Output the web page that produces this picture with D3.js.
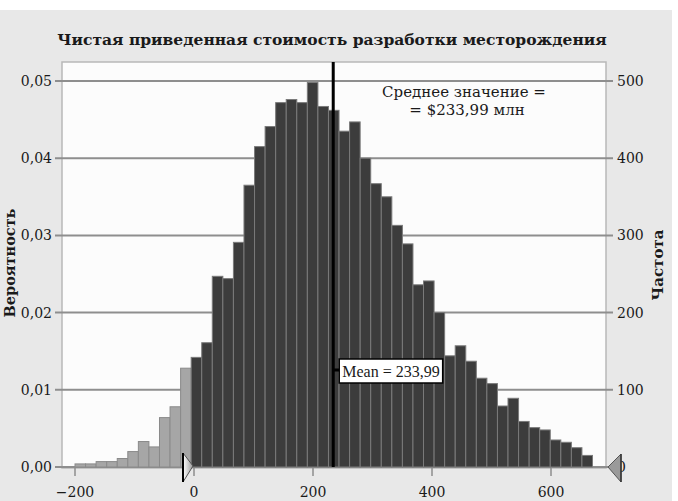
<!DOCTYPE html>
<html>
<head>
<meta charset="utf-8">
<script src="https://cdn.jsdelivr.net/npm/d3@7"></script>
<style>
  body { margin: 0; background: #fff; }
  text { font-family: "DejaVu Serif", "Liberation Serif", serif; fill: #1a1a1a; }
</style>
</head>
<body>
<svg id="chart"></svg>
<script>
// histogram of NPV, 10000 trials
var binStart = -200, binWidth = 17.75;
var counts = [4, 4, 7, 7, 11, 20, 33, 26, 64, 78, 128,
  142, 161, 247, 244, 291, 365, 415, 441, 472, 476, 472, 498, 467, 462,
  435, 447, 400, 367, 350, 313, 289, 236, 241, 200, 144, 157, 137, 115,
  108, 79, 89, 59, 51, 48, 35, 32, 25, 15];
var meanValue = 233.99;
var lowerBound = 0;
var xTicks = [-200, 0, 200, 400, 600];
var freqTicks = [0, 100, 200, 300, 400, 500];
var probLabels = ["0,00", "0,01", "0,02", "0,03", "0,04", "0,05"];

var bins = counts.map(function(c, i) {
  return { x0: binStart + i * binWidth, x1: binStart + (i + 1) * binWidth, n: c };
});

var W = 678, H = 501;
var plot = { left: 62, top: 62, right: 606, bottom: 468 };

var svg = d3.select("#chart").attr("width", W).attr("height", H);

svg.append("rect").attr("x", 0).attr("y", 10).attr("width", 672).attr("height", H - 10)
  .attr("fill", "#e8e8e8");

var x = d3.scaleLinear().domain([-200, 600]).range([75, 551]);
var y = d3.scaleLinear().domain([0, 500]).range([467, 81]);

// plot background
svg.append("rect")
  .attr("x", plot.left).attr("y", plot.top)
  .attr("width", plot.right - plot.left).attr("height", plot.bottom - plot.top)
  .attr("fill", "#fcfcfc").attr("stroke", "#b8b8b8").attr("stroke-width", 1.5);

// title
svg.append("text")
  .attr("x", 332).attr("y", 45)
  .attr("text-anchor", "middle")
  .style("font-weight", "bold").style("font-size", "15.5px")
  .text("Чистая приведенная стоимость разработки месторождения");

// gridlines + ticks both sides
svg.append("g").selectAll("line").data(freqTicks).enter().append("line")
  .attr("x1", 55).attr("x2", 613)
  .attr("y1", function(d) { return y(d); }).attr("y2", function(d) { return y(d); })
  .attr("stroke", "#8e8e8e").attr("stroke-width", 2);

svg.append("g").selectAll("text").data(freqTicks).enter().append("text")
  .attr("x", 52).attr("y", function(d) { return y(d); }).attr("dy", "0.35em")
  .attr("text-anchor", "end").style("font-size", "14px")
  .text(function(d, i) { return probLabels[i]; });

svg.append("g").selectAll("text").data(freqTicks).enter().append("text")
  .attr("x", 617).attr("y", function(d) { return y(d); }).attr("dy", "0.35em")
  .style("font-size", "14px")
  .text(function(d) { return d; });

// bars
svg.append("g").selectAll("rect").data(bins).enter().append("rect")
  .attr("x", function(d) { return x(d.x0); })
  .attr("width", function(d) { return x(d.x1) - x(d.x0); })
  .attr("y", function(d) { return y(d.n); })
  .attr("height", function(d) { return y(0) - y(d.n); })
  .attr("fill", function(d) { return (d.x0 + d.x1) / 2 < lowerBound ? "#a6a6a6" : "#3c3c3c"; })
  .attr("stroke", function(d) { return (d.x0 + d.x1) / 2 < lowerBound ? "#8a8a8a" : "#7a7a7a"; })
  .attr("stroke-width", 1);

// x axis ticks
svg.append("g").selectAll("line").data(xTicks).enter().append("line")
  .attr("x1", function(d) { return x(d); }).attr("x2", function(d) { return x(d); })
  .attr("y1", 468).attr("y2", 476)
  .attr("stroke", "#8e8e8e").attr("stroke-width", 1.5);

svg.append("g").selectAll("text").data(xTicks).enter().append("text")
  .attr("x", function(d) { return x(d); }).attr("y", 497)
  .attr("text-anchor", "middle").style("font-size", "14px")
  .text(function(d) { return d < 0 ? "\u2212" + Math.abs(d) : d; });

// axis titles
svg.append("text")
  .attr("transform", "translate(15,263) rotate(-90)")
  .attr("text-anchor", "middle")
  .style("font-weight", "bold").style("font-size", "14.5px")
  .text("Вероятность");

svg.append("text")
  .attr("transform", "translate(663,265) rotate(-90)")
  .attr("text-anchor", "middle")
  .style("font-weight", "bold").style("font-size", "15px")
  .text("Частота");

// mean line
var mx = x(meanValue);
svg.append("line")
  .attr("x1", mx).attr("x2", mx).attr("y1", plot.top).attr("y2", 467)
  .attr("stroke", "#000").attr("stroke-width", 3);

svg.append("line")
  .attr("x1", mx).attr("x2", mx + 7).attr("y1", 370).attr("y2", 370)
  .attr("stroke", "#000").attr("stroke-width", 3);

var meanText = svg.append("text")
  .attr("x", mx + 9).attr("y", 371).attr("dy", "0.35em")
  .style("font-family", "'Liberation Serif', serif").style("font-size", "16px")
  .text("Mean = " + String(meanValue).replace(".", ","));
var bb = meanText.node().getBBox();
svg.insert("rect", function() { return meanText.node(); })
  .attr("x", mx + 6).attr("y", 359)
  .attr("width", bb.width + 6).attr("height", 24)
  .attr("fill", "#fff").attr("stroke", "#000").attr("stroke-width", 1.5);

// annotation
svg.append("text")
  .attr("x", 464).attr("y", 97).attr("text-anchor", "middle")
  .style("font-size", "15px")
  .text("Среднее значение =");
svg.append("text")
  .attr("x", 467).attr("y", 115).attr("text-anchor", "middle")
  .style("font-size", "15px")
  .text("= $" + String(meanValue).replace(".", ",") + " млн");

// grabbers
var grad = svg.append("defs").append("linearGradient").attr("id", "gl")
  .attr("x1", "0").attr("x2", "1");
grad.append("stop").attr("offset", "0").attr("stop-color", "#ffffff");
grad.append("stop").attr("offset", "1").attr("stop-color", "#9a9a9a");

var gx = x(lowerBound);
svg.append("path")
  .attr("d", "M" + (gx - 11) + ",453 L" + (gx - 1) + ",466 L" + (gx - 11) + ",482 Z")
  .attr("fill", "url(#gl)").attr("stroke", "#555").attr("stroke-width", 1);
svg.append("line")
  .attr("x1", gx - 11).attr("x2", gx - 11).attr("y1", 453).attr("y2", 482)
  .attr("stroke", "#000").attr("stroke-width", 2);

svg.append("path")
  .attr("d", "M608,467 L621,454 L621,482 Z")
  .attr("fill", "#9a9a9a").attr("stroke", "#555").attr("stroke-width", 1);
svg.append("line")
  .attr("x1", 621).attr("x2", 621).attr("y1", 454).attr("y2", 482)
  .attr("stroke", "#333").attr("stroke-width", 1.5);
</script>
</body>
</html>
